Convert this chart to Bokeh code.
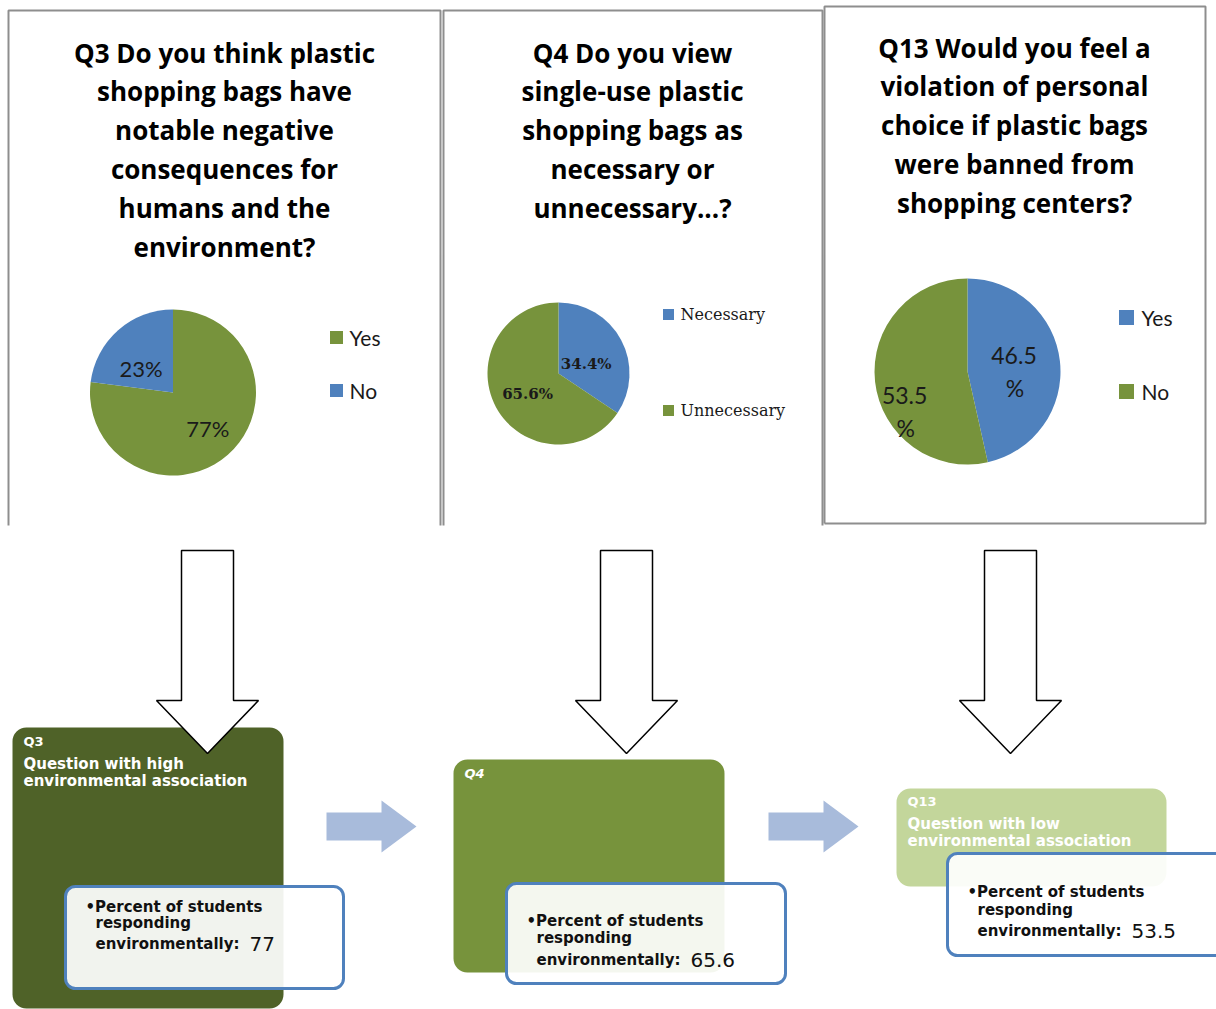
import math
from bokeh.plotting import figure
from bokeh.models import Range1d, BoxAnnotation
from bokeh.embed import file_html
from bokeh.resources import INLINE
from bokeh.core.properties import value

# ---------------- data ----------------
q3_title = ["Q3 Do you think plastic", "shopping bags have", "notable negative",
            "consequences for", "humans and the", "environment?"]
q3_categories = ["Yes", "No"]
q3_values = [77, 23]

q4_title = ["Q4 Do you view", "single-use plastic", "shopping bags as",
            "necessary or", "unnecessary...?"]
q4_categories = ["Necessary", "Unnecessary"]
q4_values = [34.4, 65.6]

q13_title = ["Q13 Would you feel a", "violation of personal", "choice if plastic bags",
             "were banned from", "shopping centers?"]
q13_categories = ["Yes", "No"]
q13_values = [46.5, 53.5]

box_ids = ["Q3", "Q4", "Q13"]
box_descriptions = [["Question with high", "environmental association"], [],
                    ["Question with low", "environmental association"]]
environmental_percent = [77, 65.6, 53.5]

# ---------------- styling ----------------
BLUE = "#4F81BD"
GREEN = "#77933C"
W, H = 1216, 1009


def Y(y):
    return H - y


p = figure(width=W, height=H, x_range=Range1d(0, W), y_range=Range1d(0, H),
           output_backend="svg", toolbar_location=None, min_border=0,
           x_axis_type=None, y_axis_type=None)
p.grid.visible = False
p.outline_line_color = None
p.background_fill_color = "white"
p.border_fill_color = "white"

# ---------------- panel borders ----------------
panels = [(8, 10, 440, 525, False), (443, 10, 822, 525, False), (824, 6, 1205, 523, True)]
for l, t, r, b, closed in panels:
    xs = [l, l, r, r]
    ys = [Y(b), Y(t), Y(t), Y(b)]
    if closed:
        xs.append(l)
        ys.append(Y(b))
    p.line(xs, ys, line_color="#8E8E8E", line_width=2)


# ---------------- titles ----------------
def title(lines, cx, y0, step=38.8):
    p.text(x=[cx] * len(lines), y=[Y(y0 + i * step) for i in range(len(lines))], text=lines,
           text_font=value("Open Sans"), text_font_style="bold", text_font_size="26px",
           text_align="center", text_baseline="middle", text_color="#000000")


title(q3_title, 224, 52)
title(q4_title, 632, 52)
title(q13_title, 1014, 47)


# ---------------- pies ----------------
def pie(cx, cy, r, cats, vals, colors, lab_frac, lab_off, lab_font, lab_size, lab_style,
        split, leg_x, leg_ys, leg_sq, leg_font, leg_size, leg_gap):
    total = float(sum(vals))
    cum = 0.0
    starts, ends = [], []
    lx, ly, lt = [], [], []
    for v, f, off in zip(vals, lab_frac, lab_off):
        a_end = math.pi / 2 - 2 * math.pi * cum / total
        a_start = math.pi / 2 - 2 * math.pi * (cum + v) / total
        starts.append(a_start)
        ends.append(a_end)
        mid = (a_start + a_end) / 2 + math.radians(off)
        x = cx + f * r * math.cos(mid)
        y = cy - f * r * math.sin(mid)
        if split:
            lx += [x, x + 1]
            ly += [Y(y - 16), Y(y + 17)]
            lt += [f"{v:g}", "%"]
        else:
            lx.append(x)
            ly.append(Y(y))
            lt.append(f"{v:g}%")
        cum += v
    n = len(vals)
    p.wedge(x=[cx] * n, y=[Y(cy)] * n, radius=r, start_angle=starts, end_angle=ends,
            fill_color=colors, line_color=None)
    p.text(x=lx, y=ly, text=lt, text_font=value(lab_font), text_font_size=lab_size,
           text_font_style=lab_style, text_align="center", text_baseline="middle",
           text_color="#1A1A1A")
    # legend
    p.rect(x=[leg_x] * n, y=[Y(v) for v in leg_ys], width=leg_sq, height=leg_sq,
           fill_color=colors, line_color=None)
    p.text(x=[leg_x + leg_gap] * n, y=[Y(v) for v in leg_ys], text=cats,
           text_font=value(leg_font), text_font_size=leg_size, text_align="left",
           text_baseline="middle", text_color="#1A1A1A")


pie(172.5, 392, 83, q3_categories, q3_values, [GREEN, BLUE],
    [0.6, 0.48], [3, 12], "Lato", "22px", "normal", False,
    336, [337, 390], 13, "Lato", "21px", 13)
pie(558, 373, 71, q4_categories, q4_values, [BLUE, GREEN],
    [0.41, 0.52], [-10, 5], "DejaVu Serif", "15px", "bold", False,
    668, [314, 410], 11, "DejaVu Serif", "16px", 12)
pie(967, 371, 93, q13_categories, q13_values, [BLUE, GREEN],
    [0.5, 0.8], [-6, 26], "Lato", "23px", "normal", True,
    1126, [317, 391], 15, "Lato", "21px", 15)


# ---------------- arrows ----------------
def down_arrow(c, top=550, shaft_bot=700, tip=753, sw=26, hw=51):
    xs = [c - sw, c + sw, c + sw, c + hw, c, c - hw, c - sw]
    ys = [top, top, shaft_bot, shaft_bot, tip, shaft_bot, shaft_bot]
    return xs, [Y(v) for v in ys]


def right_arrow(x0):
    xs = [x0, x0 + 55, x0 + 55, x0 + 90, x0 + 55, x0 + 55, x0]
    ys = [812, 812, 800, 826, 852, 840, 840]
    return xs, [Y(v) for v in ys]


# ---------------- boxes ----------------
outer_boxes = [(12, 727, 283, 1008, "#4F6228"), (453, 759, 724, 972, "#77933C"),
               (896, 788, 1166, 886, "#C3D69B")]
inner_boxes = [(65, 886, 343, 988), (506, 883, 785, 983), (947, 853, 1226, 955)]

for l, t, r, b, c in outer_boxes:
    p.add_layout(BoxAnnotation(left=l, right=r, top=Y(t), bottom=Y(b), fill_color=c,
                               fill_alpha=1.0, line_color=None, border_radius=14,
                               level="underlay"))
for l, t, r, b in inner_boxes:
    p.add_layout(BoxAnnotation(left=l, right=r, top=Y(t), bottom=Y(b), fill_color="#FFFFFF",
                               fill_alpha=0.92, line_color=BLUE, line_alpha=1.0, line_width=3,
                               border_radius=10, level="underlay"))

dxs, dys = [], []
for c in [207, 626, 1010]:
    a, b = down_arrow(c)
    dxs.append(a)
    dys.append(b)
p.patches(dxs, dys, fill_color="white", line_color="black", line_width=1.5)

rxs, rys = [], []
for x0 in [326, 768]:
    a, b = right_arrow(x0)
    rxs.append(a)
    rys.append(b)
p.patches(rxs, rys, fill_color="#A8BBDB", line_color=None)

# box headers
header_y = [741, 773, 801]
for (l, t, r, b, c), bid, desc, hy in zip(outer_boxes, box_ids, box_descriptions, header_y):
    p.text(x=[l + 11], y=[Y(hy)], text=[bid], text_font=value("DejaVu Sans"),
           text_font_style="bold italic" if bid == "Q4" else "bold", text_font_size="13px",
           text_baseline="middle", text_color="white")
    if desc:
        p.text(x=[l + 11] * len(desc), y=[Y(hy + 22 + 17 * i) for i in range(len(desc))],
               text=desc, text_font=value("DejaVu Sans"), text_font_style="bold",
               text_font_size="15px", text_baseline="middle", text_color="white")

# inner texts
inner_line_y = [(906, 922, 943), (920, 937, 959), (891, 909, 930)]
FS = 15
for (l, t, r, b), (y1, y2, y3), val in zip(inner_boxes, inner_line_y, environmental_percent):
    p.text(x=[l + 20, l + 30, l + 30], y=[Y(y1), Y(y2), Y(y3)],
           text=["\u2022Percent of  students", "responding", "environmentally:"],
           text_font=value("DejaVu Sans"), text_font_style="bold",
           text_font_size=f"{FS}px", text_baseline="middle", text_color="#111111")
    p.text(x=[l + 30 + 9.6 * FS + 10], y=[Y(y3)], text=[f"{val:g}"],
           text_font=value("DejaVu Sans"), text_font_size="20px",
           text_baseline="middle", text_color="#111111")

open("out.html", "w").write(file_html(p, INLINE))
